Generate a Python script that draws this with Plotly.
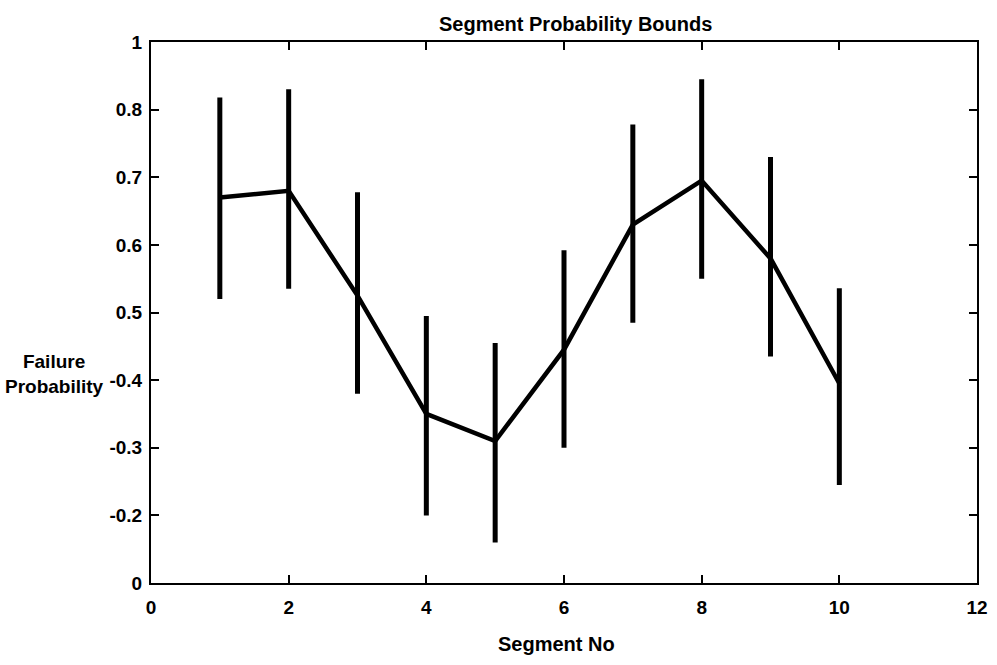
import plotly.graph_objects as go

segments = [1, 2, 3, 4, 5, 6, 7, 8, 9, 10]
mean_prob = [0.67, 0.68, 0.525, 0.35, 0.31, 0.445, 0.63, 0.695, 0.58, 0.395]
lower_bound = [0.52, 0.535, 0.38, 0.20, 0.16, 0.30, 0.485, 0.55, 0.435, 0.245]
upper_bound = [0.818, 0.83, 0.678, 0.495, 0.455, 0.592, 0.778, 0.845, 0.73, 0.536]

x_ticks = [0, 2, 4, 6, 8, 10, 12]
y_tickvals = [0.1, 0.2, 0.3, 0.4, 0.5, 0.6, 0.7, 0.8, 0.9]
y_ticktext = ["0", "-0.2", "-0.3", "-0.4", "0.5", "0.6", "0.7", "0.8", "1"]

err_plus = [u - m for u, m in zip(upper_bound, mean_prob)]
err_minus = [m - l for m, l in zip(mean_prob, lower_bound)]

FONT = "Arial, Liberation Sans, sans-serif"

fig = go.Figure()
fig.add_trace(go.Scatter(
    x=segments, y=mean_prob, mode="lines",
    line=dict(color="black", width=4.5),
    error_y=dict(type="data", symmetric=False, array=err_plus, arrayminus=err_minus,
                 color="black", thickness=5, width=0),
    showlegend=False,
))

fig.update_layout(
    width=997, height=665,
    margin=dict(l=151, r=9, t=42, b=82),
    paper_bgcolor="white", plot_bgcolor="white",
    font=dict(family=FONT, color="black"),
    showlegend=False,
    xaxis=dict(
        range=[0, 12], tickvals=x_ticks, ticktext=[str(v) for v in x_ticks],
        showgrid=False, zeroline=False, showline=True, linecolor="black", linewidth=2,
        mirror="ticks", ticks="inside", ticklen=8, tickwidth=2, tickcolor="black",
        ticklabelstandoff=6,
        tickfont=dict(family=FONT, size=19, weight="bold", color="black"),
    ),
    yaxis=dict(
        range=[0.1, 0.9], tickvals=y_tickvals, ticktext=y_ticktext,
        showgrid=False, zeroline=False, showline=True, linecolor="black", linewidth=2,
        mirror="ticks", ticks="inside", ticklen=8, tickwidth=2, tickcolor="black",
        ticklabelstandoff=3,
        tickfont=dict(family=FONT, size=19, weight="bold", color="black"),
    ),
    annotations=[
        dict(text="Segment Probability Bounds", xref="paper", yref="paper",
             x=0.514, y=1.033, xanchor="center", yanchor="middle", showarrow=False,
             font=dict(family=FONT, size=20, weight="bold", color="black")),
        dict(text="Segment No", xref="paper", yref="paper",
             x=0.491, y=-0.112, xanchor="center", yanchor="middle", showarrow=False,
             font=dict(family=FONT, size=20, weight="bold", color="black")),
        dict(text="Failure<br>Probability", xref="paper", yref="paper",
             x=(53 - 151) / 837, y=0.386, xanchor="center", yanchor="middle", align="center",
             showarrow=False,
             font=dict(family=FONT, size=19, weight="bold", color="black")),
    ],
)

fig.write_html("out.html")
